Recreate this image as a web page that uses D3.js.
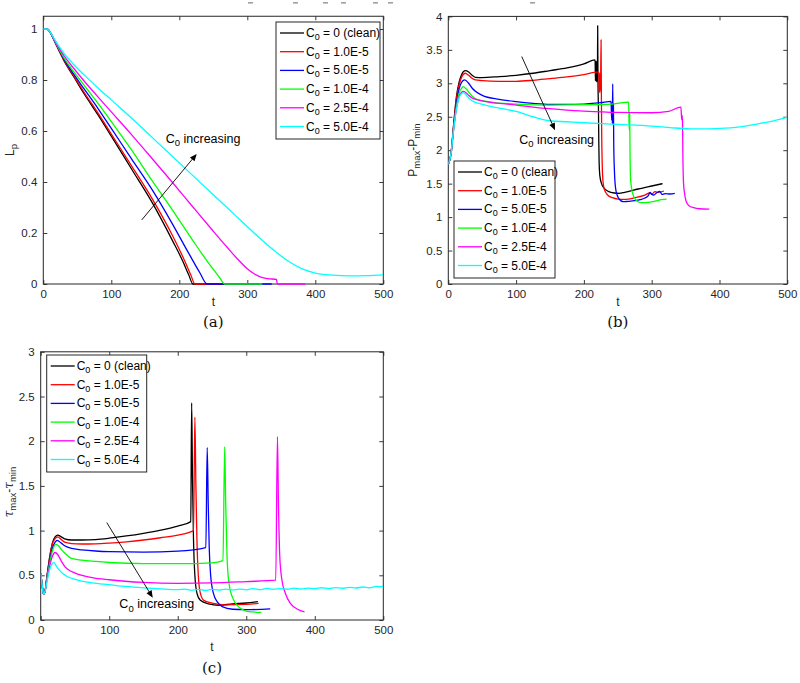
<!DOCTYPE html>
<html><head><meta charset="utf-8">
<script src="https://cdn.jsdelivr.net/npm/d3@7"></script>
<style>body{margin:0;background:#fff}</style>
</head><body><svg id="c" width="800" height="683"></svg>
<script>
// ---------------- DATA ----------------
const tTicks = [0, 100, 200, 300, 400, 500];
const lpTicks = [0, 0.2, 0.4, 0.6, 0.8, 1];
const pTicks = [0, 0.5, 1, 1.5, 2, 2.5, 3, 3.5, 4];
const tauTicks = [0, 0.5, 1, 1.5, 2, 2.5, 3];
const legendValues = ["0 (clean)", "1.0E-5", "5.0E-5", "1.0E-4", "2.5E-4", "5.0E-4"];
const seriesColors = ["#000000", "#ff0000", "#0000ff", "#00ff00", "#ff00ff", "#00ffff"];

// (a) L_p vs t
const lpBlack = [[0,1],[5,1],[8,0.995],[12,0.978],[16,0.955],[20,0.932],[25,0.905],[30,0.878],[45,0.812],[60,0.746],[80,0.665],[100,0.58],[130,0.45],[160,0.32],[190,0.17],[205,0.09],[214,0.035],[220,0],[316,0]];
const lpRed = [[0,1],[5,1],[8,0.995],[12,0.978],[16,0.955],[20,0.933],[25,0.906],[30,0.88],[45,0.815],[60,0.752],[80,0.672],[100,0.588],[130,0.462],[160,0.335],[190,0.19],[208,0.09],[217,0.035],[223,0],[318,0]];
const lpBlue = [[0,1],[5,1],[8,0.995],[12,0.978],[16,0.956],[20,0.935],[25,0.909],[30,0.884],[45,0.822],[60,0.765],[80,0.69],[100,0.61],[130,0.49],[160,0.37],[190,0.235],[215,0.115],[230,0.045],[241,0],[336,0]];
const lpGreen = [[0,1],[5,1],[8,0.995],[12,0.978],[16,0.957],[20,0.937],[25,0.912],[30,0.889],[45,0.832],[60,0.78],[80,0.71],[100,0.637],[130,0.525],[160,0.405],[190,0.29],[220,0.17],[245,0.075],[258,0.03],[267,0],[322,0]];
const lpMagenta = [[0,1],[5,1],[8,0.995],[12,0.979],[16,0.959],[20,0.94],[25,0.918],[30,0.897],[45,0.845],[60,0.796],[80,0.735],[100,0.675],[130,0.585],[160,0.492],[190,0.398],[220,0.302],[250,0.207],[270,0.145],[285,0.1],[300,0.06],[310,0.04],[320,0.027],[330,0.021],[343,0.018],[344,0],[385,0]];
const lpCyan = [[0,1],[5,1],[8,0.995],[12,0.98],[16,0.962],[20,0.945],[25,0.925],[30,0.906],[45,0.86],[60,0.82],[80,0.77],[100,0.722],[130,0.65],[160,0.575],[190,0.5],[220,0.425],[250,0.35],[280,0.275],[310,0.2],[340,0.13],[360,0.09],[380,0.06],[400,0.043],[425,0.035],[450,0.032],[475,0.033],[500,0.036]];

// (b) Pmax-Pmin vs t
const pBlack = [[0,1.79],[4,1.95],[8,2.4],[12,2.8],[16,3.02],[20,3.14],[25,3.19],[30,3.17],[35,3.12],[40,3.09],[50,3.085],[75,3.1],[100,3.12],[125,3.15],[150,3.19],[175,3.23],[200,3.29],[216.5,3.35],[217,3.04],[217.5,3.33],[218,3.03],[218.5,3.33],[219,3.02],[219.5,3.32],[220,3.05],[220.3,3.86],[220.8,3.0],[221.5,2.6],[222,2.1],[222.5,1.8],[223.5,1.62],[226,1.5],[230,1.43],[236,1.385],[245,1.36],[252,1.355],[260,1.37],[280,1.42],[300,1.465],[316,1.5]];
const pRed = [[0,1.79],[4,1.95],[8,2.38],[12,2.77],[16,2.98],[20,3.1],[25,3.15],[30,3.12],[35,3.075],[40,3.05],[50,3.04],[75,3.03],[100,3.03],[125,3.045],[150,3.07],[175,3.095],[200,3.13],[222,3.17],[222.5,2.88],[223,3.15],[223.5,2.86],[224,3.12],[224.5,2.9],[225.3,3.65],[225.8,2.8],[226.3,2.2],[227,1.8],[228,1.55],[230,1.42],[235,1.33],[242,1.29],[250,1.27],[262,1.265],[275,1.29],[290,1.33],[297,1.36],[300,1.345],[305,1.38],[310,1.37],[318,1.39]];
const pBlue = [[0,1.79],[4,1.95],[8,2.35],[12,2.7],[16,2.92],[20,3.02],[24,3.05],[30,3.0],[35,2.93],[40,2.88],[50,2.82],[75,2.76],[100,2.725],[125,2.7],[150,2.685],[175,2.685],[200,2.69],[225,2.71],[240,2.73],[241,2.45],[241.5,2.72],[242,2.4],[242.5,2.99],[243,2.38],[243.5,2.7],[244,2.1],[245,1.7],[246.5,1.45],[249,1.33],[253,1.26],[258,1.23],[265,1.235],[275,1.245],[283,1.26],[290,1.285],[295,1.32],[297.5,1.37],[300,1.34],[303,1.33],[307,1.36],[312,1.385],[315,1.34],[320,1.35],[327,1.345],[334,1.355]];
const pGreen = [[0,1.79],[4,1.95],[8,2.33],[12,2.65],[16,2.85],[20,2.93],[22,2.95],[26,2.92],[30,2.87],[35,2.81],[40,2.77],[50,2.74],[75,2.705],[100,2.69],[150,2.675],[200,2.68],[240,2.69],[266,2.72],[266.5,2.45],[267,2.3],[267.5,2.55],[268,2.0],[268.7,1.6],[270,1.45],[272,1.35],[275,1.28],[280,1.23],[285,1.215],[295,1.22],[305,1.24],[315,1.26],[322,1.27]];
const pMagenta = [[0,1.79],[4,1.95],[8,2.32],[12,2.62],[16,2.8],[20,2.87],[22,2.88],[26,2.86],[30,2.82],[35,2.78],[45,2.75],[60,2.72],[80,2.695],[100,2.675],[125,2.645],[150,2.62],[175,2.6],[200,2.585],[250,2.565],[300,2.56],[325,2.58],[343,2.645],[344,2.5],[344.5,2.45],[345,2.52],[345.5,2.4],[346,1.9],[347,1.5],[348.5,1.35],[351,1.23],[355,1.17],[362,1.14],[370,1.125],[385,1.12]];
const pCyan = [[0,1.79],[4,1.95],[8,2.32],[12,2.62],[16,2.79],[20,2.85],[22,2.86],[26,2.83],[30,2.78],[35,2.74],[45,2.7],[60,2.66],[80,2.62],[100,2.58],[125,2.5],[150,2.44],[175,2.425],[200,2.41],[250,2.385],[300,2.36],[330,2.335],[357,2.32],[380,2.318],[400,2.325],[430,2.35],[460,2.4],[480,2.44],[500,2.49]];

// (c) tau_max - tau_min vs t
const tauBlack = [[0,0.52],[2,0.4],[4,0.29],[6,0.31],[9,0.48],[13,0.7],[17,0.86],[21,0.93],[25,0.95],[30,0.93],[35,0.908],[45,0.895],[60,0.895],[80,0.9],[100,0.915],[125,0.94],[150,0.97],[175,1.005],[200,1.05],[219,1.1],[220.3,2.43],[221.5,1.6],[223,0.9],[225,0.5],[228,0.3],[233,0.22],[245,0.18],[260,0.165],[280,0.18],[300,0.19],[317,0.205]];
const tauRed = [[0,0.52],[2,0.4],[4,0.29],[6,0.31],[9,0.48],[13,0.69],[17,0.85],[21,0.91],[25,0.93],[30,0.9],[35,0.87],[45,0.855],[60,0.85],[80,0.852],[100,0.86],[125,0.875],[150,0.895],[175,0.92],[200,0.95],[223,1.0],[225,2.27],[226.5,1.5],[228,0.9],[230,0.5],[233,0.3],[238,0.22],[250,0.19],[270,0.17],[300,0.175],[318,0.185]];
const tauBlue = [[0,0.52],[2,0.4],[4,0.29],[6,0.31],[9,0.47],[13,0.66],[17,0.8],[21,0.87],[24,0.89],[30,0.86],[35,0.83],[45,0.8],[60,0.785],[80,0.772],[100,0.765],[150,0.76],[200,0.77],[241,0.81],[243,1.93],[244.5,1.3],[246,0.8],[248,0.5],[252,0.3],[258,0.2],[265,0.15],[280,0.12],[300,0.115],[335,0.125]];
const tauGreen = [[0,0.52],[2,0.4],[4,0.29],[6,0.31],[9,0.46],[13,0.63],[17,0.77],[22,0.845],[26,0.83],[30,0.79],[35,0.75],[45,0.69],[60,0.67],[80,0.655],[100,0.643],[150,0.63],[200,0.63],[250,0.64],[266,0.665],[268.5,1.94],[270,1.3],[272,0.7],[275,0.4],[280,0.25],[290,0.14],[300,0.1],[310,0.09],[322,0.085]];
const tauMagenta = [[0,0.52],[2,0.4],[4,0.29],[6,0.31],[9,0.44],[13,0.6],[17,0.71],[21,0.755],[25,0.73],[30,0.66],[35,0.6],[40,0.565],[50,0.525],[75,0.475],[100,0.45],[150,0.42],[200,0.41],[250,0.415],[300,0.43],[343,0.445],[345.5,2.05],[347,1.3],[349,0.7],[352,0.45],[357,0.3],[365,0.18],[375,0.12],[385,0.09]];
const tauCyan = [[0,0.52],[2,0.4],[4,0.29],[6,0.31],[9,0.42],[13,0.56],[16,0.62],[19,0.645],[23,0.6],[27,0.56],[32,0.52],[38,0.49],[50,0.455],[75,0.415],[100,0.395],[125,0.375],[150,0.36],[175,0.348],[200,0.34],[210,0.346],[220,0.334],[230,0.342],[240,0.331],[250,0.343],[260,0.335],[270,0.346],[280,0.336],[290,0.345],[300,0.338],[310,0.351],[320,0.34],[330,0.353],[340,0.343],[350,0.352],[360,0.344],[370,0.356],[380,0.347],[390,0.357],[400,0.35],[410,0.361],[420,0.352],[430,0.363],[440,0.355],[450,0.366],[460,0.358],[470,0.369],[480,0.361],[490,0.377],[495,0.37],[500,0.378]];

const lpSeries = [lpBlack, lpRed, lpBlue, lpGreen, lpMagenta, lpCyan];
const pSeries = [pBlack, pRed, pBlue, pGreen, pMagenta, pCyan];
const tauSeries = [tauBlack, tauRed, tauBlue, tauGreen, tauMagenta, tauCyan];

// ---------------- DRAW ----------------
const svg = d3.select("#c");
const FONT = "'Liberation Sans', Arial, Helvetica, sans-serif";
const TICKFS = 11.5, LEGFS = 12;

// stray marks at top of the source image
[[248,3],[293,3],[323,3],[341,3],[373,3],[388,3],[530,3]].forEach(([x,y]) => {
  svg.append("rect").attr("x", x).attr("y", y - 1).attr("width", 5).attr("height", 1.6).attr("fill", "#a0a0a0");
});

function panel(cfg) {
  const x = d3.scaleLinear().domain([0, 500]).range([cfg.left, cfg.right]);
  const y = d3.scaleLinear().domain(cfg.yDomain).range([cfg.bottom, cfg.top]);
  const g = svg.append("g");

  // axes (inward ticks on all four sides) and frame
  const axG = g.append("g").attr("font-family", FONT);
  const styleAxis = sel => {
    sel.select(".domain").remove();
    sel.selectAll(".tick line").attr("stroke", "#262626").attr("stroke-width", 0.9);
    sel.selectAll(".tick text").attr("fill", "#262626").attr("font-size", TICKFS).attr("font-family", FONT);
  };
  axG.append("g").attr("transform", `translate(0,${cfg.bottom})`)
    .call(d3.axisBottom(x).tickValues(tTicks).tickSizeInner(-4).tickSizeOuter(0).tickPadding(6).tickFormat(d3.format("d"))).call(styleAxis);
  axG.append("g").attr("transform", `translate(0,${cfg.top})`)
    .call(d3.axisTop(x).tickValues(tTicks).tickSizeInner(-4).tickSizeOuter(0).tickFormat("")).call(styleAxis);
  axG.append("g").attr("transform", `translate(${cfg.left},0)`)
    .call(d3.axisLeft(y).tickValues(cfg.yTicks).tickSizeInner(-4).tickSizeOuter(0).tickPadding(6).tickFormat(d => String(d))).call(styleAxis);
  axG.append("g").attr("transform", `translate(${cfg.right},0)`)
    .call(d3.axisRight(y).tickValues(cfg.yTicks).tickSizeInner(-4).tickSizeOuter(0).tickFormat("")).call(styleAxis);
  g.append("rect").attr("x", cfg.left).attr("y", cfg.top).attr("width", cfg.right - cfg.left).attr("height", cfg.bottom - cfg.top)
    .attr("fill", "none").attr("stroke", "#262626").attr("stroke-width", 1);

  // data lines, drawn over the frame so the zero-level segments stay visible
  const line = d3.line().x(d => x(d[0])).y(d => y(d[1])).curve(d3.curveMonotoneX);
  const clipId = "clip" + cfg.id;
  g.append("clipPath").attr("id", clipId).append("rect")
    .attr("x", cfg.left).attr("y", cfg.top - 2).attr("width", cfg.right - cfg.left).attr("height", cfg.bottom - cfg.top + 4);
  const lg = g.append("g").attr("clip-path", `url(#${clipId})`);
  cfg.series.forEach((s, i) => {
    lg.append("path").datum(s).attr("d", line).attr("fill", "none")
      .attr("stroke", seriesColors[i]).attr("stroke-width", 1.3).attr("stroke-linejoin", "round");
  });

  g.append("text").attr("x", (cfg.left + cfg.right) / 2).attr("y", cfg.bottom + cfg.tDy)
    .attr("text-anchor", "middle").attr("font-family", FONT).attr("font-size", 12).attr("fill", "#262626").text("t");
  g.append("text").attr("x", (cfg.left + cfg.right) / 2).attr("y", cfg.bottom + cfg.capDy)
    .attr("text-anchor", "middle").attr("font-family", "'DejaVu Serif', 'Liberation Serif', serif").attr("font-size", 15).attr("fill", "#111").text(cfg.caption);

  const yl = g.append("text").attr("transform", `translate(${cfg.ylabX},${cfg.ylabY}) rotate(-90)`)
    .attr("text-anchor", "middle").attr("font-family", FONT).attr("font-size", 12).attr("fill", "#262626");
  cfg.ylabel(yl);

  const L = cfg.legend;
  const lgd = g.append("g");
  lgd.append("rect").attr("x", L.x).attr("y", L.y).attr("width", L.w).attr("height", L.h)
    .attr("fill", "#fff").attr("stroke", "#262626").attr("stroke-width", 1);
  legendValues.forEach((v, i) => {
    const yy = L.y + 11 + i * 18.7;
    lgd.append("line").attr("x1", L.x + 4).attr("x2", L.x + 28).attr("y1", yy).attr("y2", yy)
      .attr("stroke", seriesColors[i]).attr("stroke-width", 1.3);
    const t = lgd.append("text").attr("x", L.x + 30).attr("y", yy + 4)
      .attr("font-family", FONT).attr("font-size", LEGFS).attr("fill", "#000");
    t.append("tspan").text("C");
    t.append("tspan").attr("font-size", 9).attr("dy", 3).text("0");
    t.append("tspan").attr("dy", -3).text(" = " + v);
  });

  const A = cfg.arrow;
  const x1 = x(A.from[0]), y1 = y(A.from[1]), x2 = x(A.to[0]), y2 = y(A.to[1]);
  const ang = Math.atan2(y2 - y1, x2 - x1);
  const hl = 7, hw = 3;
  g.append("line").attr("x1", x1).attr("y1", y1).attr("x2", x2 - Math.cos(ang) * 3).attr("y2", y2 - Math.sin(ang) * 3)
    .attr("stroke", "#000").attr("stroke-width", 0.9);
  const bx = x2 - Math.cos(ang) * hl, by = y2 - Math.sin(ang) * hl;
  g.append("path").attr("d", `M${x2},${y2} L${bx - Math.sin(ang) * hw},${by + Math.cos(ang) * hw} L${bx + Math.sin(ang) * hw},${by - Math.cos(ang) * hw} Z`)
    .attr("fill", "#000");
  const at = g.append("text").attr("x", x(A.text[0])).attr("y", y(A.text[1]))
    .attr("font-family", FONT).attr("font-size", 12.5).attr("fill", "#000");
  at.append("tspan").text("C");
  at.append("tspan").attr("font-size", 9.5).attr("dy", 3.5).text("0");
  at.append("tspan").attr("dy", -3.5).text(" increasing");
}

panel({
  id: "a", left: 43.3, right: 383.3, top: 284 - 1.05 * 255, bottom: 284, yDomain: [0, 1.05], yTicks: lpTicks,
  series: lpSeries, caption: "(a)", tDy: 22, capDy: 43, ylabX: 14, ylabY: 150,
  ylabel: t => { t.append("tspan").text("L"); t.append("tspan").attr("font-size", 9.5).attr("dy", 3).text("p"); },
  legend: { x: 276, y: 22, w: 104, h: 117 },
  arrow: { from: [144.7, 0.251], to: [225.6, 0.51], text: [180, 0.553] }
});

panel({
  id: "b", left: 448.3, right: 787.3, top: 284 - 4 * 66.9, bottom: 284, yDomain: [0, 4], yTicks: pTicks,
  series: pSeries, caption: "(b)", tDy: 22, capDy: 43, ylabX: 417, ylabY: 150,
  ylabel: t => {
    t.append("tspan").text("P"); t.append("tspan").attr("font-size", 9.5).attr("dy", 3).text("max");
    t.append("tspan").attr("dy", -3).text("-P"); t.append("tspan").attr("font-size", 9.5).attr("dy", 3).text("min");
  },
  legend: { x: 454, y: 161, w: 101, h: 117 },
  arrow: { from: [108.3, 3.4], to: [157.4, 2.3], text: [104.7, 2.1] }
});

panel({
  id: "c", left: 40.7, right: 383.3, top: 620 - 3 * 89.4, bottom: 620, yDomain: [0, 3], yTicks: tauTicks,
  series: tauSeries, caption: "(c)", tDy: 31, capDy: 53, ylabX: 13, ylabY: 492,
  ylabel: t => {
    t.append("tspan").attr("font-family", "'DejaVu Serif', serif").attr("font-style", "italic").text("τ");
    t.append("tspan").attr("font-size", 9.5).attr("dy", 3).text("max");
    t.append("tspan").attr("dy", -3).text("-");
    t.append("tspan").attr("font-family", "'DejaVu Serif', serif").attr("font-style", "italic").text("τ");
    t.append("tspan").attr("font-size", 9.5).attr("dy", 3).text("min");
  },
  legend: { x: 46.7, y: 355, w: 100, h: 117 },
  arrow: { from: [96.4, 1.09], to: [163.5, 0.25], text: [114.8, 0.13] }
});
</script>
</body></html>
